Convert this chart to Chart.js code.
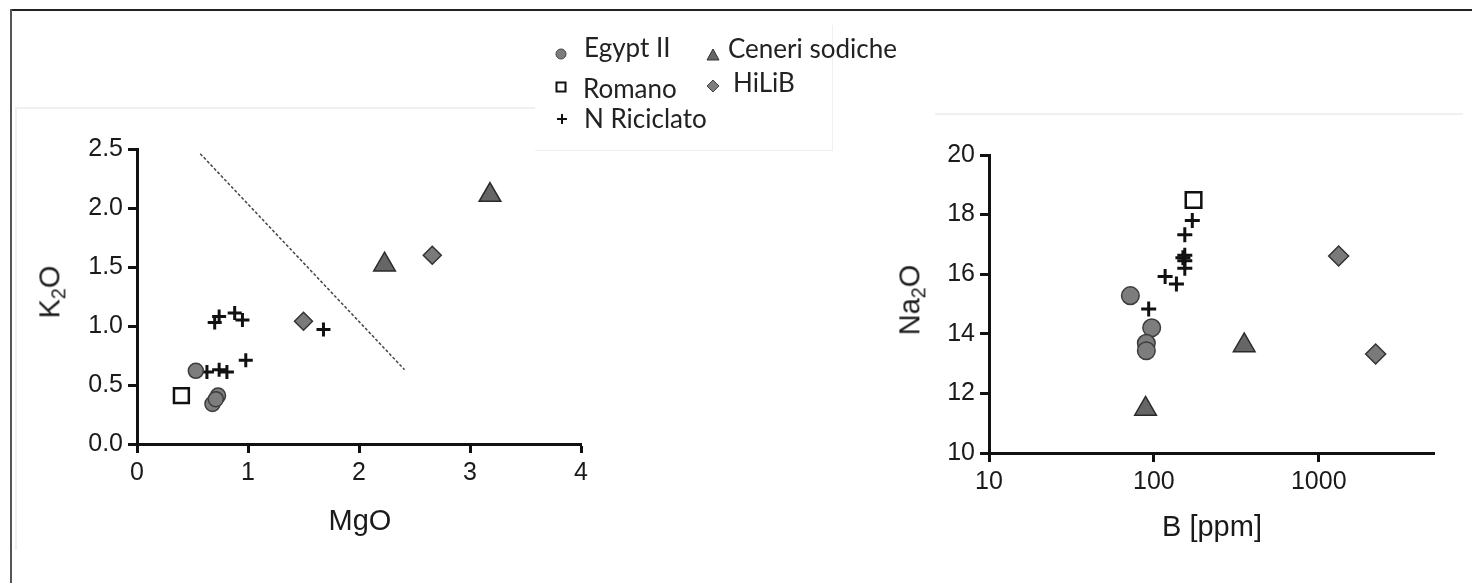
<!DOCTYPE html>
<html lang="it">
<head>
<meta charset="UTF-8">
<title>K2O vs MgO, Na2O vs B</title>
<script src="https://cdn.jsdelivr.net/npm/chart.js@4"></script>
<style>
  body { margin: 0; background: #fff; }
  .page { position: relative; width: 1472px; height: 583px; overflow: hidden; font-family: "Liberation Sans", Arial, sans-serif; color: #1a1a1a; }
  canvas { position: absolute; top: 0; }
  #chartK { left: 0; }
  #chartNa { left: 760px; }
  .frame-top { position: absolute; left: 10px; top: 9px; width: 1462px; border-top: 2px solid #222; }
  .frame-left { position: absolute; left: 10px; top: 9px; height: 574px; border-left: 2px solid #555; }
  .faint { position: absolute; background: #f0f0f0; }
  .title { position: absolute; font-size: 29px; white-space: nowrap; line-height: 1; }
  .ytitle { transform: translate(-50%, -50%) rotate(-90deg); }
  .xtitle { transform: translate(-50%, -50%); }
  .title sub { font-size: 0.68em; vertical-align: -0.28em; }
  .leg-text { position: absolute; font-family: Lato, "Open Sans", sans-serif; font-size: 26px; line-height: 26px; color: #222; white-space: nowrap; }
  .leg-mark { position: absolute; }
</style>
</head>
<body>
<div class="page">
  <div class="faint" style="left:15px; top:107px; width:520px; height:2px;"></div>
  <div class="faint" style="left:15px; top:107px; width:2px; height:443px;"></div>
  <div class="faint" style="left:935px; top:113px; width:528px; height:2px;"></div>
  <div class="faint" style="left:832px; top:25px; width:1px; height:125px;"></div>
  <div class="faint" style="left:535px; top:150px; width:298px; height:1px;"></div>

  <canvas id="chartK" width="700" height="583"></canvas>
  <canvas id="chartNa" width="712" height="583"></canvas>

  <div class="frame-top"></div>
  <div class="frame-left"></div>

  <!-- titoli degli assi -->
  <div class="title ytitle" style="left:52px; top:292px;">K<sub>2</sub>O</div>
  <div class="title xtitle" style="left:360px; top:520px;">MgO</div>
  <div class="title ytitle" style="left:912px; top:300px;">Na<sub>2</sub>O</div>
  <div class="title xtitle" style="left:1212px; top:526px;">B [ppm]</div>

  <!-- legenda -->
  <svg class="leg-mark" style="left:555px; top:48px;" width="12" height="12"><circle cx="6" cy="6" r="5" fill="#7d7d7d" stroke="#444" stroke-width="1"/></svg>
  <div class="leg-text" style="left:584px; top:34px;">Egypt II</div>
  <svg class="leg-mark" style="left:706px; top:48px;" width="14" height="13"><polygon points="7,1 13,12 1,12" fill="#666" stroke="#333" stroke-width="1"/></svg>
  <div class="leg-text" style="left:728px; top:35px;">Ceneri sodiche</div>
  <svg class="leg-mark" style="left:555px; top:81px;" width="12" height="12"><rect x="1.5" y="1.5" width="9" height="9" fill="#fff" stroke="#111" stroke-width="2"/></svg>
  <div class="leg-text" style="left:583px; top:75px;">Romano</div>
  <svg class="leg-mark" style="left:706px; top:79px;" width="14" height="14"><polygon points="7,1 13,7 7,13 1,7" fill="#7d7d7d" stroke="#444" stroke-width="1"/></svg>
  <div class="leg-text" style="left:733px; top:69px;">HiLiB</div>
  <svg class="leg-mark" style="left:556px; top:113px;" width="12" height="12"><path d="M6 1 V11 M1 6 H11" stroke="#111" stroke-width="2"/></svg>
  <div class="leg-text" style="left:584px; top:105px;">N Riciclato</div>
</div>

<script>
// K2O vs MgO
const egyptMgO = [0.53, 0.73, 0.68, 0.71];
const egyptK2O = [0.62, 0.41, 0.34, 0.38];
const romanoMgO = [0.40];
const romanoK2O = [0.41];
const riciclatoMgO = [0.70, 0.74, 0.88, 0.95, 0.63, 0.74, 0.81, 0.98, 1.68];
const riciclatoK2O = [1.03, 1.08, 1.11, 1.05, 0.61, 0.63, 0.61, 0.71, 0.97];
const ceneriMgO = [2.23, 3.18];
const ceneriK2O = [1.52, 2.11];
const hilibMgO = [1.50, 2.66];
const hilibK2O = [1.04, 1.60];
const divideMgO = [0.57, 2.41];
const divideK2O = [2.46, 0.63];

// Na2O vs B
const egyptB = [72, 97, 90, 90];
const egyptNa2O = [15.28, 14.2, 13.68, 13.43];
const romanoB = [174];
const romanoNa2O = [18.49];
const riciclatoB = [93, 117, 137, 154, 154, 150, 154, 154, 171];
const riciclatoNa2O = [14.83, 15.92, 15.67, 16.2, 16.45, 16.55, 16.64, 17.32, 17.8];
const ceneriB = [89, 353];
const ceneriNa2O = [11.48, 13.61];
const hilibB = [1320, 2213];
const hilibNa2O = [16.61, 13.32];

// tick
const mgoTicks = [0, 1, 2, 3, 4];
const k2oTicks = [0, 0.5, 1, 1.5, 2, 2.5];
const bTicks = [10, 100, 1000];
const na2oTicks = [10, 12, 14, 16, 18, 20];

function pts(xs, ys) {
    return xs.map((x, i) => ({ x: x, y: ys[i] }));
}

const tickFont = { family: "'Liberation Sans', Arial, sans-serif", size: 25 };

function axis(extra) {
    return Object.assign({
        ticks: { font: tickFont, color: '#1a1a1a', padding: 5 },
        grid: { display: true, drawOnChartArea: false, drawTicks: true, tickLength: 9, tickWidth: 3, tickColor: '#111' },
        border: { display: true, color: '#111', width: 3 }
    }, extra);
}

// raggi: cerchio, quadrato, croce, triangolo, rombo
function markerSets(eg, ro, ri, ce, hi, r) {
    return [
        { data: eg, pointStyle: 'circle', pointRadius: r[0], backgroundColor: '#7d7d7d', borderColor: '#3c3c3c', borderWidth: 1.5 },
        { data: ro, pointStyle: 'rect', pointRadius: r[1], backgroundColor: '#fff', borderColor: '#111', borderWidth: 2.5 },
        { data: ri, pointStyle: 'cross', pointRadius: r[2], borderColor: '#111', borderWidth: 3 },
        { data: ce, pointStyle: 'triangle', pointRadius: r[3], backgroundColor: '#666', borderColor: '#2a2a2a', borderWidth: 1.5 },
        { data: hi, pointStyle: 'rectRot', pointRadius: r[4], backgroundColor: '#7a7a7a', borderColor: '#333', borderWidth: 1.5 }
    ];
}

const baseOptions = {
    responsive: false,
    animation: false,
    events: [],
    plugins: { legend: { display: false }, tooltip: { enabled: false } }
};

// grafico di sinistra
const leftSets = markerSets(
    pts(egyptMgO, egyptK2O), pts(romanoMgO, romanoK2O), pts(riciclatoMgO, riciclatoK2O),
    pts(ceneriMgO, ceneriK2O), pts(hilibMgO, hilibK2O), [7.5, 10.5, 7, 12.5, 9]);
leftSets.push({
    data: pts(divideMgO, divideK2O), showLine: true, pointRadius: 0,
    borderColor: '#444', borderWidth: 1.5, borderDash: [3, 2]
});

new Chart(document.getElementById('chartK'), {
    type: 'scatter',
    data: { datasets: leftSets.map(d => Object.assign({ clip: false }, d)) },
    options: Object.assign({}, baseOptions, {
        layout: { padding: { top: 149, right: 119, bottom: 0, left: 0 } },
        scales: {
            x: axis({
                type: 'linear', min: 0, max: 4,
                afterBuildTicks: s => { s.ticks = mgoTicks.map(v => ({ value: v })); },
                afterFit: s => { s.height = 139; }
            }),
            y: axis({
                type: 'linear', min: 0, max: 2.5,
                afterBuildTicks: s => { s.ticks = k2oTicks.map(v => ({ value: v })); },
                afterFit: s => { s.width = 137; }
            })
        }
    })
});
Chart.getChart('chartK').options.scales.y.ticks.callback = v => v.toFixed(1);
Chart.getChart('chartK').update();

// grafico di destra
new Chart(document.getElementById('chartNa'), {
    type: 'scatter',
    data: {
        datasets: markerSets(
            pts(egyptB, egyptNa2O), pts(romanoB, romanoNa2O), pts(riciclatoB, riciclatoNa2O),
            pts(ceneriB, ceneriNa2O), pts(hilibB, hilibNa2O), [8.8, 11, 7.5, 12.5, 10]).map(d => Object.assign({ clip: false }, d))
    },
    options: Object.assign({}, baseOptions, {
        layout: { padding: { top: 155, right: 38, bottom: 0, left: 0 } },
        scales: {
            x: axis({
                type: 'logarithmic', min: 10, max: 5000,
                afterBuildTicks: s => { s.ticks = bTicks.map(v => ({ value: v })); },
                afterFit: s => { s.height = 130; }
            }),
            y: axis({
                type: 'linear', min: 10, max: 20,
                afterBuildTicks: s => { s.ticks = na2oTicks.map(v => ({ value: v })); },
                afterFit: s => { s.width = 229; }
            })
        }
    })
});
Chart.getChart('chartNa').options.scales.x.ticks.callback = v => String(v);
Chart.getChart('chartNa').update();
</script>
</body>
</html>
